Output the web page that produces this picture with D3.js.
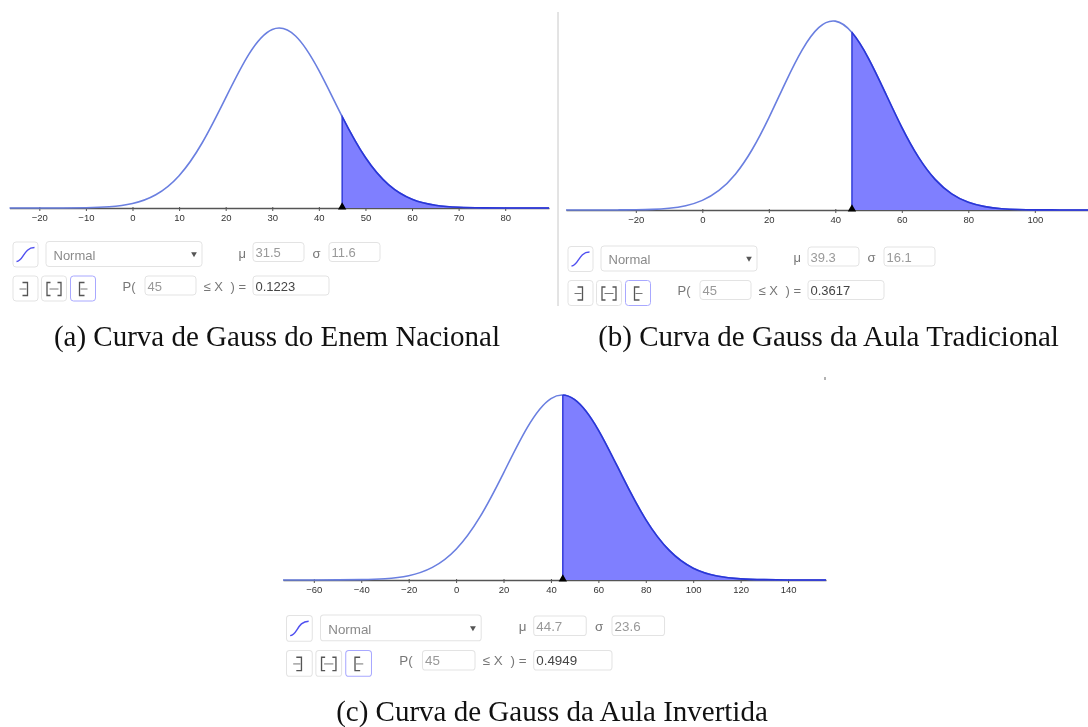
<!DOCTYPE html>
<html>
<head>
<meta charset="utf-8">
<script src="https://cdn.jsdelivr.net/npm/d3@7"></script>
<style>
  body { margin: 0; background: #fff; }
  svg { display: block; }
  .ui { font-family: "Liberation Sans", Arial, sans-serif; font-size: 13px; }
  .caption { font-family: "Liberation Serif", "Times New Roman", serif; font-size: 29px; fill: #111; }
</style>
</head>
<body>
<svg width="1088" height="727"></svg>
<script>
// values (x, density)
const xA = [-30, -25, -20, -15, -10, -5, 0, 5, 10, 15, 20, 25, 30, 35, 40, 45, 50, 55, 60, 65, 70, 75, 80, 85, 90, 95];
const yA = [0, 0, 0.000002, 0.00001, 0.00006, 0.00024, 0.00086, 0.00253, 0.00617, 0.01251, 0.02104, 0.0294, 0.0341, 0.03286, 0.02629, 0.01747, 0.00964, 0.00442, 0.00168, 0.00053, 0.00014, 0.00003, 0.00001, 0, 0, 0];

const xB = [-45, -40, -35, -30, -25, -20, -15, -10, -5, 0, 5, 10, 15, 20, 25, 30, 35, 40, 45, 50, 55, 60, 65, 70, 75, 80, 85, 90, 95, 100, 105, 110, 115, 120];
const yB = [0, 0, 0.000001, 0.000002, 0.00001, 0.00003, 0.00008, 0.00023, 0.00056, 0.00126, 0.00256, 0.00473, 0.00793, 0.01208, 0.01671, 0.02097, 0.02391, 0.02476, 0.02327, 0.01986, 0.0154, 0.01084, 0.00693, 0.00402, 0.00212, 0.00101, 0.00044, 0.00017, 0.00006, 0.00002, 0.00001, 0, 0, 0];

const xC = [-80, -70, -60, -50, -40, -30, -20, -10, 0, 10, 20, 30, 40, 50, 60, 70, 80, 90, 100, 110, 120, 130, 140, 150, 160];
const yC = [0, 0, 0.000001, 0.00001, 0.00003, 0.00011, 0.00039, 0.00115, 0.00281, 0.00574, 0.00977, 0.01392, 0.01657, 0.01648, 0.0137, 0.00951, 0.00552, 0.00268, 0.00108, 0.00037, 0.0001, 0.00003, 0.000005, 0, 0];

// tick labels of each axis
const ticksA = [-20, -10, 0, 10, 20, 30, 40, 50, 60, 70, 80];
const ticksB = [-20, 0, 20, 40, 60, 80, 100];
const ticksC = [-60, -40, -20, 0, 20, 40, 60, 80, 100, 120, 140];

const cutoff = 45;
const textsA = { mu: "31.5", sigma: "11.6", p: "0.1223" };
const textsB = { mu: "39.3", sigma: "16.1", p: "0.3617" };
const textsC = { mu: "44.7", sigma: "23.6", p: "0.4949" };

const captions = ["(a) Curva de Gauss do Enem Nacional", "(b) Curva de Gauss da Aula Tradicional", "(c) Curva de Gauss da Aula Invertida"];

const svg = d3.select("svg");

// the screenshots in the reference are a little soft
svg.append("filter").attr("id", "soft")
  .append("feGaussianBlur").attr("stdDeviation", 0.35);

// Draws one distribution plot: curve, shaded tail, axis and marker
function drawCurve(id, xs, ys, ticks, o) {
  const x = d3.scaleLinear().domain(o.xDomain).range(o.xRange);
  const y = d3.scaleLinear().domain([0, o.peak]).range([o.base, o.top]);
  const data = xs.map((v, i) => [v, ys[i]]);

  const area = d3.area().x((d) => x(d[0])).y0(o.base).y1((d) => y(d[1])).curve(d3.curveNatural);
  const line = d3.line().x((d) => x(d[0])).y((d) => y(d[1])).curve(d3.curveNatural);

  // the tail is the same area clipped at the cutoff
  svg.append("clipPath").attr("id", "tail" + id)
    .append("rect")
    .attr("x", x(cutoff)).attr("y", o.top - 5)
    .attr("width", o.xRange[1] - x(cutoff)).attr("height", o.base - o.top + 6);
  svg.append("clipPath").attr("id", "view" + id)
    .append("rect")
    .attr("x", o.xRange[0]).attr("y", o.top - 5)
    .attr("width", o.xRange[1] - o.xRange[0]).attr("height", o.base - o.top + 6);
  svg.append("clipPath").attr("id", "under" + id)
    .append("path").datum(data).attr("d", area);

  const plot = svg.append("g").attr("filter", "url(#soft)");

  const axis = d3.axisBottom(x).tickValues(ticks).tickSizeInner(3).tickSizeOuter(0).tickPadding(3).tickFormat(d3.format("d"));
  const g = plot.append("g").attr("transform", `translate(0,${o.base})`).call(axis);
  g.select(".domain").attr("stroke", "#555").attr("stroke-width", 1.4);
  g.selectAll(".tick line").attr("stroke", "#555").attr("y1", -1);
  g.selectAll(".tick text").attr("fill", "#333").attr("font-family", "Liberation Sans").attr("font-size", 9.5);

  plot.append("path").datum(data).attr("d", area).attr("clip-path", `url(#tail${id})`).attr("fill", "#7f7fff");
  plot.append("path").datum(data).attr("d", line).attr("clip-path", `url(#view${id})`)
    .attr("fill", "none").attr("stroke", "#6a7fe0").attr("stroke-width", 1.6);
  plot.append("path").datum(data).attr("d", line).attr("clip-path", `url(#tail${id})`)
    .attr("fill", "none").attr("stroke", "#2a35d8").attr("stroke-width", 1.6);
  // left edge of the tail, cut to the curve by the area clip
  plot.append("g").attr("clip-path", `url(#under${id})`)
    .append("line")
    .attr("x1", x(cutoff)).attr("x2", x(cutoff))
    .attr("y1", o.top).attr("y2", o.base)
    .attr("stroke", "#2a35d8").attr("stroke-width", 1.4);

  plot.append("path")
    .attr("d", d3.symbol(d3.symbolTriangle, 30))
    .attr("transform", `translate(${x(cutoff)},${o.base - 1})`)
    .attr("fill", "#000");
}

function box(g, bx, by, w, h, stroke) {
  g.append("rect").attr("x", bx).attr("y", by).attr("width", w).attr("height", h)
    .attr("rx", 3).attr("fill", "#fff").attr("stroke", stroke || "#e3e3e3").attr("stroke-width", 1);
}

function label(g, tx, ty, s, fill) {
  g.append("text").attr("x", tx).attr("y", ty).attr("fill", fill).text(s);
}

// GeoGebra style controls under each plot
function drawControls(texts, tx, ty, scale) {
  const g = svg.append("g").attr("class", "ui").attr("filter", "url(#soft)")
    .attr("transform", `translate(${tx},${ty}) scale(${scale})`);

  box(g, 0.5, 0.5, 25, 25);
  g.append("path").attr("d", "M4,20 C11,20 11,6 22,6").attr("fill", "none").attr("stroke", "#5050f0").attr("stroke-width", 1.4);

  box(g, 33.5, 0, 156, 25);
  label(g, 41, 18, "Normal", "#8a8a8a");
  g.append("path").attr("d", d3.symbol(d3.symbolTriangle, 14)).attr("transform", "translate(181.5,12.5) rotate(180)").attr("fill", "#555");

  label(g, 226, 16, "μ", "#777");
  box(g, 240.5, 1, 51, 19);
  label(g, 243, 15.5, texts.mu, "#999");
  label(g, 300, 16, "σ", "#777");
  box(g, 316.5, 1, 51, 19);
  label(g, 319, 15.5, texts.sigma, "#999");

  box(g, 0.5, 34.5, 25, 25);
  box(g, 29, 34.5, 25, 25);
  box(g, 58, 34.5, 25, 25, "#a8a8ff");
  const br = "#555";
  const glyph = (d, w) => g.append("path").attr("d", d).attr("fill", "none").attr("stroke", br).attr("stroke-width", w || 1.3);
  glyph("M10,41 H15 V54 H10");
  glyph("M7,47.5 H14", 0.8);
  glyph("M38,41 H34.5 V54 H38 M45,41 H48.5 V54 H45");
  glyph("M37,47.5 H46", 0.8);
  glyph("M72,41 H67 V54 H72");
  glyph("M68,47.5 H75", 0.8);

  label(g, 110, 49, "P(", "#777");
  box(g, 132.5, 34.5, 51, 19);
  label(g, 135, 49, "45", "#999");
  label(g, 191, 49, "≤ X", "#777");
  label(g, 218, 49, ") =", "#777");
  box(g, 240.5, 34.5, 76, 19);
  label(g, 243, 49, texts.p, "#444");
}

drawCurve("a", xA, yA, ticksA, { xDomain: [-26.4, 89.4], xRange: [9.5, 549], base: 208, top: 28, peak: 0.03439 });
drawCurve("b", xB, yB, ticksB, { xDomain: [-41, 116], xRange: [566, 1088], base: 210, top: 21, peak: 0.02478 });
drawCurve("c", xC, yC, ticksC, { xDomain: [-73, 156], xRange: [283, 826], base: 580, top: 395, peak: 0.0169 });

drawControls(textsA, 12.5, 241.5, 1);
drawControls(textsB, 567.5, 246, 1);
drawControls(textsC, 286, 615, 1.03);

// divider between the two top panels and the stray mark on the right
svg.append("line").attr("x1", 558).attr("x2", 558).attr("y1", 12).attr("y2", 306).attr("stroke", "#c8c8c8");
svg.append("line").attr("x1", 825).attr("x2", 825).attr("y1", 377).attr("y2", 380).attr("stroke", "#666");

svg.selectAll("text.caption").data(captions).join("text")
  .attr("class", "caption")
  .attr("text-anchor", "middle")
  .attr("x", (d, i) => [277, 828.5, 552][i])
  .attr("y", (d, i) => [346, 346, 721][i])
  .text((d) => d);
</script>
</body>
</html>
